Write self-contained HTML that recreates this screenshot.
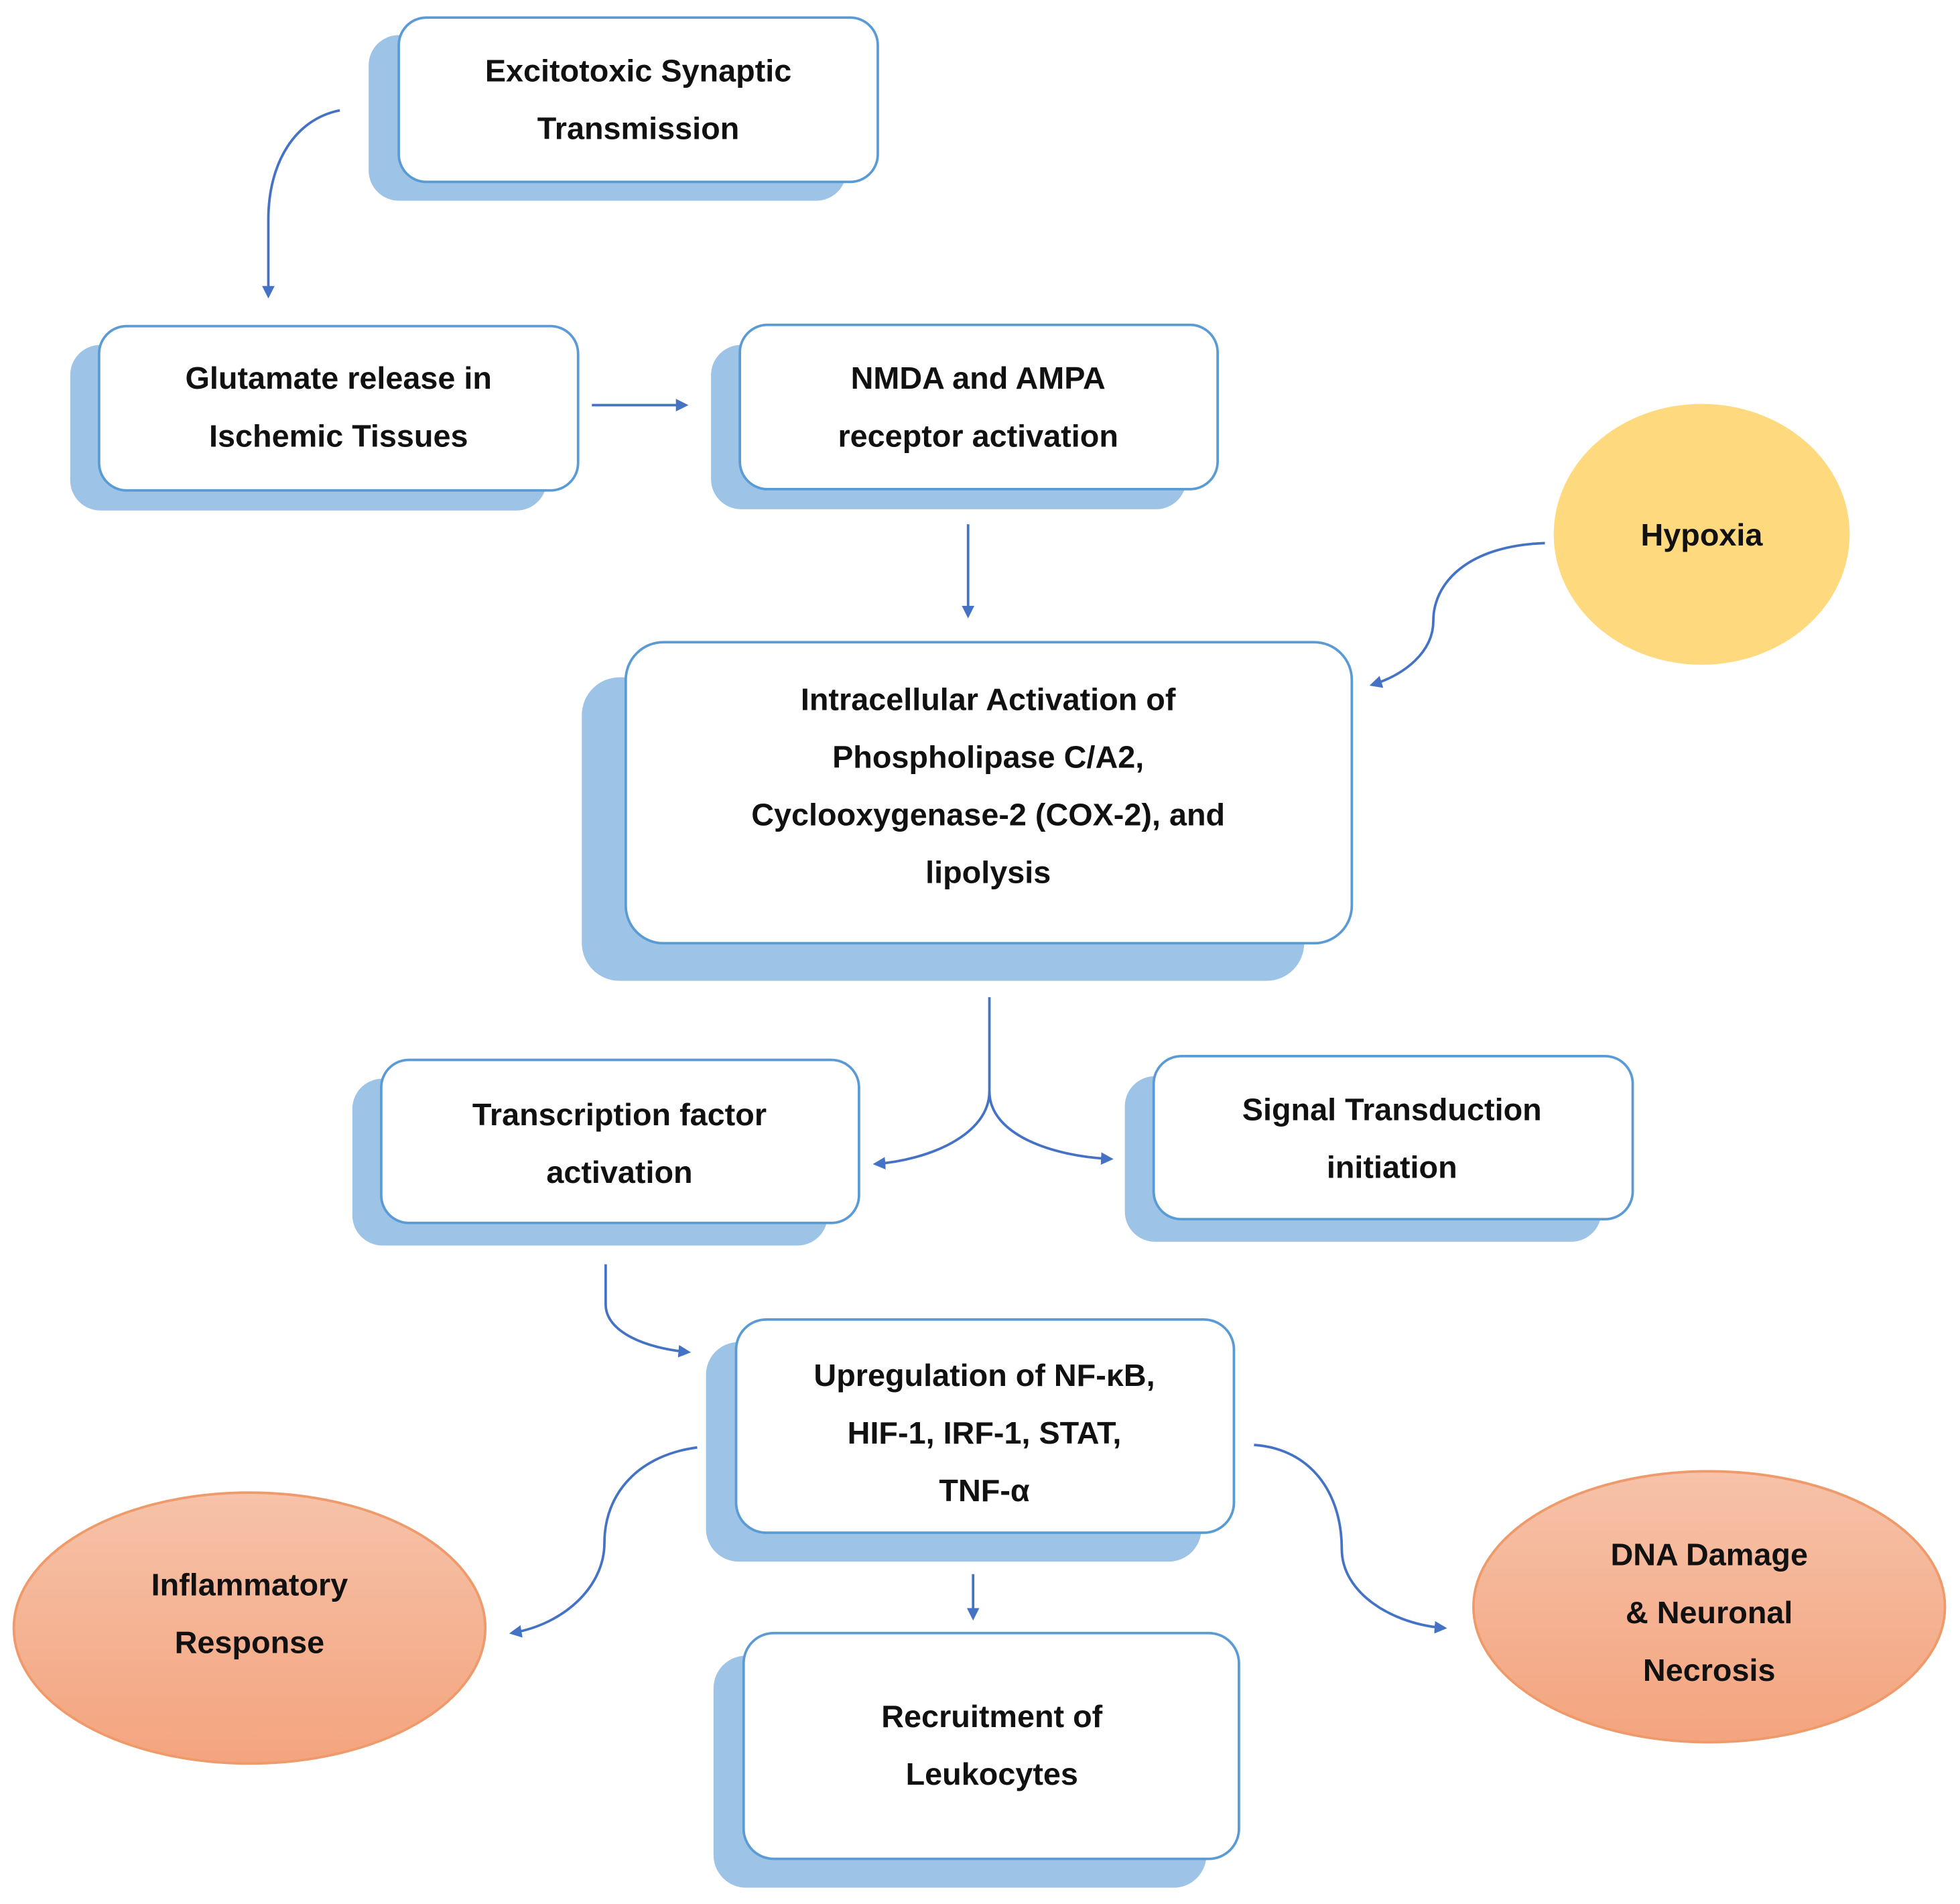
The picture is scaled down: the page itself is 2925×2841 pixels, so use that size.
<!DOCTYPE html>
<html><head><meta charset="utf-8"><style>
html,body{margin:0;padding:0;background:#fff}
svg{display:block}
text{font-family:"Liberation Sans",sans-serif;font-weight:bold;font-size:25px;fill:#111;text-anchor:middle}
</style></head><body>
<svg width="2925" height="2841" viewBox="0 0 1563 1518" preserveAspectRatio="none" xmlns="http://www.w3.org/2000/svg">
<defs>
<marker id="a" viewBox="0 0 10 10" refX="8" refY="5" markerWidth="5" markerHeight="5" orient="auto"><path d="M0,0 L10,5 L0,10 z" fill="#4472c4"/></marker>
<linearGradient id="og" x1="0" y1="0" x2="0" y2="1"><stop offset="0" stop-color="#f6c2a9"/><stop offset="1" stop-color="#f4a47e"/></linearGradient>
</defs>
<g fill="#9dc3e6">
<rect x="294" y="28" width="381" height="132" rx="24"/>
<rect x="56" y="275" width="380" height="132" rx="24"/>
<rect x="567" y="275" width="379" height="131" rx="24"/>
<rect x="464" y="540" width="576" height="242" rx="30"/>
<rect x="281" y="860" width="379" height="133" rx="24"/>
<rect x="897" y="858" width="380" height="132" rx="24"/>
<rect x="563" y="1070" width="395" height="175" rx="26"/>
<rect x="569" y="1320" width="393" height="185" rx="26"/>
</g>
<g fill="#fff" stroke="#5b9bd5" stroke-width="2">
<rect x="318" y="14" width="382" height="131" rx="22"/>
<rect x="79" y="260" width="382" height="131" rx="22"/>
<rect x="590" y="259" width="381" height="131" rx="22"/>
<rect x="499" y="512" width="579" height="240" rx="30"/>
<rect x="304" y="845" width="381" height="130" rx="22"/>
<rect x="920" y="842" width="382" height="130" rx="22"/>
<rect x="587" y="1052" width="397" height="170" rx="24"/>
<rect x="593" y="1302" width="395" height="180" rx="24"/>
</g>
<ellipse cx="1357" cy="426" rx="118" ry="104" fill="#ffd97d"/>
<ellipse cx="199" cy="1298" rx="188" ry="108" fill="url(#og)" stroke="#ee9a6a" stroke-width="2"/>
<ellipse cx="1363" cy="1281" rx="188" ry="108" fill="url(#og)" stroke="#ee9a6a" stroke-width="2"/>
<g fill="none" stroke="#4472c4" stroke-width="2" marker-end="url(#a)">
<path d="M271,88 C235,95 214,130 214,175 L214,236"/>
<path d="M472,323 L547,323"/>
<path d="M772,418 L772,491"/>
<path d="M1232,433 C1170,435 1143,465 1143,495 C1143,520 1120,538 1094,546"/>
<path d="M789,795 L789,870 C789,905 740,925 698,928"/>
<path d="M789,870 C789,905 840,922 886,924"/>
<path d="M483,1008 L483,1040 C483,1062 515,1075 549,1078"/>
<path d="M556,1154 C510,1160 482,1190 482,1230 C482,1265 450,1295 408,1302"/>
<path d="M776,1255 L776,1290"/>
<path d="M1000,1152 C1045,1155 1070,1190 1070,1235 C1070,1270 1110,1295 1152,1298"/>
</g>
<text x="509" y="65">Excitotoxic Synaptic</text>
<text x="509" y="111">Transmission</text>
<text x="270" y="310">Glutamate release in</text>
<text x="270" y="356">Ischemic Tissues</text>
<text x="780" y="310">NMDA and AMPA</text>
<text x="780" y="356">receptor activation</text>
<text x="1357" y="435">Hypoxia</text>
<text x="788" y="566">Intracellular Activation of</text>
<text x="788" y="612">Phospholipase C/A2,</text>
<text x="788" y="658">Cyclooxygenase-2 (COX-2), and</text>
<text x="788" y="704">lipolysis</text>
<text x="494" y="897">Transcription factor</text>
<text x="494" y="943">activation</text>
<text x="1110" y="893">Signal Transduction</text>
<text x="1110" y="939">initiation</text>
<text x="785" y="1105">Upregulation of NF-κB,</text>
<text x="785" y="1151">HIF-1, IRF-1, STAT,</text>
<text x="785" y="1197">TNF-α</text>
<text x="791" y="1377">Recruitment of</text>
<text x="791" y="1423">Leukocytes</text>
<text x="199" y="1272">Inflammatory</text>
<text x="199" y="1318">Response</text>
<text x="1363" y="1248">DNA Damage</text>
<text x="1363" y="1294">&amp; Neuronal</text>
<text x="1363" y="1340">Necrosis</text>
</svg>
</body></html>
